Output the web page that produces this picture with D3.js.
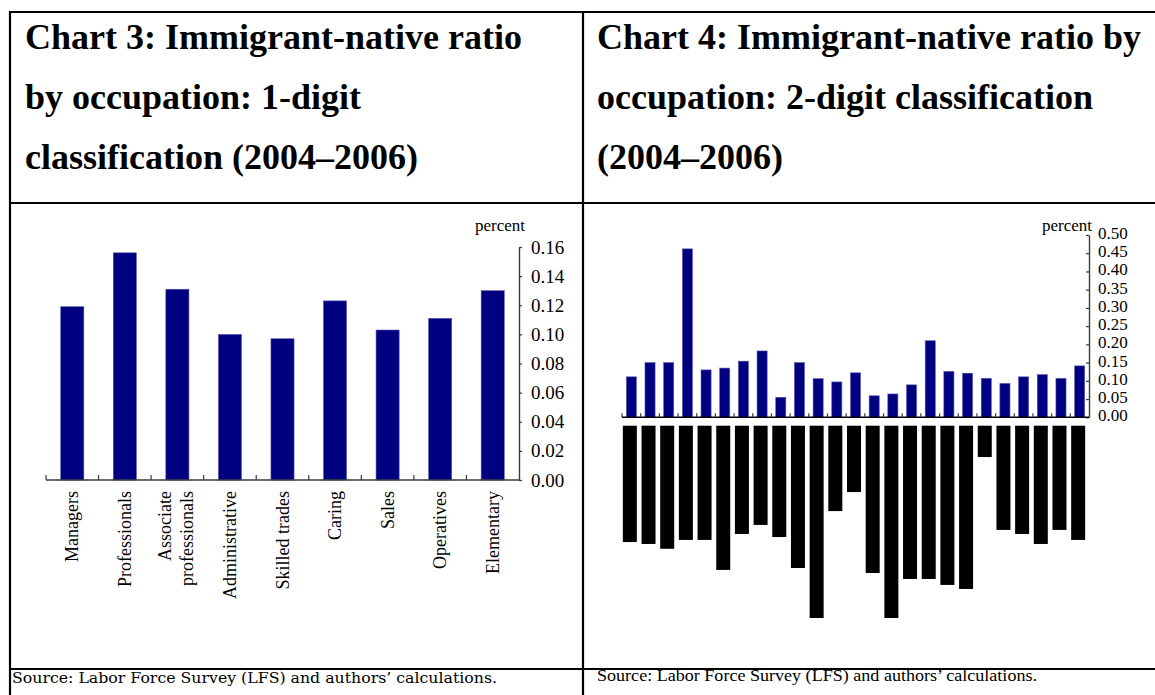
<!DOCTYPE html>
<html>
<head>
<meta charset="utf-8">
<script src="https://cdn.jsdelivr.net/npm/d3@7"></script>
<style>
  html, body { margin: 0; padding: 0; background: #fff; }
  svg { display: block; }
</style>
</head>
<body>
<svg id="chart"></svg>
<script>
// ── Data ──────────────────────────────────────────────────────────────────
// Chart 3: 1-digit occupations
const occ1      = ["Managers", "Professionals", "Associate\nprofessionals", "Administrative",
                   "Skilled trades", "Caring", "Sales", "Operatives", "Elementary"];
const ratio1    = [0.119, 0.156, 0.131, 0.100, 0.097, 0.123, 0.103, 0.111, 0.130];
const yTicks1   = [0, 0.02, 0.04, 0.06, 0.08, 0.10, 0.12, 0.14, 0.16];

// Chart 4: 2-digit occupations (labels are unreadable black blocks in the source)
const occ2      = d3.range(1, 26).map(i => "occ" + i);
const ratio2    = [0.111, 0.150, 0.150, 0.462, 0.130, 0.135, 0.154, 0.182, 0.055, 0.150,
                   0.106, 0.097, 0.122, 0.059, 0.064, 0.089, 0.210, 0.126, 0.121, 0.107,
                   0.093, 0.111, 0.117, 0.107, 0.141];
const labelLen2 = [0.605, 0.615, 0.640, 0.594, 0.594, 0.750, 0.563, 0.516, 0.579, 0.740,
                   1.000, 0.444, 0.345, 0.766, 1.000, 0.797, 0.797, 0.828, 0.849, 0.163,
                   0.542, 0.563, 0.615, 0.542, 0.594];
const yTicks2   = [0, 0.05, 0.10, 0.15, 0.20, 0.25, 0.30, 0.35, 0.40, 0.45, 0.50];

const titles = [
  ["Chart 3: Immigrant-native ratio", "by occupation: 1-digit", "classification (2004\u20132006)"],
  ["Chart 4: Immigrant-native ratio by", "occupation: 2-digit classification", "(2004\u20132006)"]
];
const sourceText = "Source: Labor Force Survey (LFS) and authors\u2019 calculations.";

// ── Canvas ────────────────────────────────────────────────────────────────
const W = 1155, H = 695;
const NAVY = "#000080";
const AXIS = "#3a3a3a";

const svg = d3.select("#chart").attr("width", W).attr("height", H);

// ── Table frame ───────────────────────────────────────────────────────────
const frame = svg.append("g").attr("stroke", "#000").attr("stroke-width", 2.2);
frame.append("line").attr("x1", 10).attr("x2", W).attr("y1", 12).attr("y2", 12);
frame.append("line").attr("x1", 10).attr("x2", W).attr("y1", 203).attr("y2", 203);
frame.append("line").attr("x1", 10).attr("x2", W).attr("y1", 669).attr("y2", 669);
frame.append("line").attr("x1", 10).attr("x2", 10).attr("y1", 11).attr("y2", H);
frame.append("line").attr("x1", 583).attr("x2", 583).attr("y1", 11).attr("y2", H);

// ── Titles ────────────────────────────────────────────────────────────────
[25, 597].forEach((x0, k) => {
  svg.append("g").selectAll("text")
    .data(titles[k])
    .join("text")
    .attr("x", x0)
    .attr("y", (d, i) => 49 + i * 60)
    .attr("font-family", "'Liberation Serif', 'Times New Roman', serif")
    .attr("font-weight", "bold")
    .attr("font-size", 36)
    .attr("fill", "#000")
    .text(d => d);
});

// ── Source lines ──────────────────────────────────────────────────────────
svg.append("text")
  .attr("x", 12).attr("y", 683)
  .attr("font-family", "'DejaVu Serif', serif")
  .attr("font-size", 14)
  .attr("textLength", 485).attr("lengthAdjust", "spacingAndGlyphs")
  .text(sourceText);

svg.append("text")
  .attr("x", 597).attr("y", 681)
  .attr("font-family", "'Liberation Serif', serif")
  .attr("font-size", 16)
  .attr("textLength", 440).attr("lengthAdjust", "spacingAndGlyphs")
  .text(sourceText);

const serif = "'Liberation Serif', 'Times New Roman', serif";

// ── Chart 3 ───────────────────────────────────────────────────────────────
{
  const g = svg.append("g");
  const x = d3.scaleBand().domain(occ1).range([46, 519]);
  const y = d3.scaleLinear().domain([0, 0.16]).range([480, 247]);
  const bw = x.step() * 0.44;

  g.selectAll("rect")
    .data(occ1)
    .join("rect")
    .attr("x", d => x(d) + (x.step() - bw) / 2)
    .attr("width", bw)
    .attr("y", (d, i) => y(ratio1[i]))
    .attr("height", (d, i) => y(0) - y(ratio1[i]))
    .attr("fill", NAVY)
    .attr("stroke", "#5a5ab0").attr("stroke-width", 0.6);

  // y axis on the right
  g.append("g")
    .attr("transform", "translate(519,0)")
    .call(d3.axisRight(y).tickValues(yTicks1).tickFormat(d3.format(".2f"))
      .tickSizeInner(3).tickSizeOuter(0).tickPadding(9))
    .call(a => a.select(".domain").attr("stroke", AXIS).attr("stroke-width", 1.4))
    .call(a => a.selectAll("line").attr("stroke", AXIS).attr("stroke-width", 1.2))
    .call(a => a.selectAll("text").attr("font-family", serif).attr("font-size", 19).attr("fill", "#000"));

  // x axis with boundary ticks pointing up
  g.append("line")
    .attr("x1", 46).attr("x2", 519).attr("y1", y(0)).attr("y2", y(0))
    .attr("stroke", AXIS).attr("stroke-width", 1.4);
  g.selectAll(".xt")
    .data(occ1)
    .join("line")
    .attr("x1", d => x(d)).attr("x2", d => x(d))
    .attr("y1", y(0)).attr("y2", y(0) - 5)
    .attr("stroke", AXIS).attr("stroke-width", 1.2);

  // rotated category labels
  const lab = g.selectAll(".lab")
    .data(occ1)
    .join("text")
    .attr("transform", d => `translate(${x(d) + x.step() / 2},491) rotate(-90)`)
    .attr("text-anchor", "end")
    .attr("font-family", serif)
    .attr("font-size", 18)
    .attr("fill", "#000");
  lab.each(function(d) {
    const lines = d.split("\n");
    const t = d3.select(this);
    lines.forEach((s, i) => {
      t.append("tspan")
        .attr("x", 0)
        .attr("y", lines.length === 1 ? 6 : (i === 0 ? -6 : 16))
        .text(s);
    });
  });

  g.append("text")
    .attr("x", 525).attr("y", 231)
    .attr("text-anchor", "end")
    .attr("font-family", serif).attr("font-size", 17)
    .text("percent");
}

// ── Chart 4 ───────────────────────────────────────────────────────────────
{
  const g = svg.append("g");
  const x = d3.scaleBand().domain(occ2).range([622, 1089]);
  const y = d3.scaleLinear().domain([0, 0.5]).range([417.3, 235]);
  const yl = d3.scaleLinear().domain([0, 1]).range([425.7, 618]);
  const bw = x.step() * 0.54;
  const lw = 14;

  // black label blocks below the axis
  g.selectAll(".blk")
    .data(occ2)
    .join("rect")
    .attr("x", d => x(d) + x.step() / 2 - lw / 2 - 1.5)
    .attr("width", lw)
    .attr("y", yl(0))
    .attr("height", (d, i) => yl(labelLen2[i]) - yl(0))
    .attr("fill", "#000");

  g.selectAll(".bar")
    .data(occ2)
    .join("rect")
    .attr("x", d => x(d) + (x.step() - bw) / 2)
    .attr("width", bw)
    .attr("y", (d, i) => y(ratio2[i]))
    .attr("height", (d, i) => y(0) - y(ratio2[i]))
    .attr("fill", NAVY)
    .attr("stroke", "#5a5ab0").attr("stroke-width", 0.6);

  g.append("g")
    .attr("transform", "translate(1089,0)")
    .call(d3.axisRight(y).tickValues(yTicks2).tickFormat(d3.format(".2f"))
      .tickSizeInner(-3).tickSizeOuter(0).tickPadding(9))
    .call(a => a.select(".domain").attr("stroke", AXIS).attr("stroke-width", 1.4))
    .call(a => a.selectAll("line").attr("stroke", AXIS).attr("stroke-width", 1.2))
    .call(a => a.selectAll("text").attr("font-family", serif).attr("font-size", 17).attr("fill", "#000")
      .attr("dy", "0.2em"));

  g.append("line")
    .attr("x1", 622).attr("x2", 1089).attr("y1", y(0)).attr("y2", y(0))
    .attr("stroke", "#000").attr("stroke-width", 1.6);
  g.selectAll(".xt")
    .data(occ2)
    .join("line")
    .attr("x1", d => x(d)).attr("x2", d => x(d))
    .attr("y1", y(0)).attr("y2", y(0) - 4)
    .attr("stroke", AXIS).attr("stroke-width", 1.2);

  g.append("text")
    .attr("x", 1092).attr("y", 231)
    .attr("text-anchor", "end")
    .attr("font-family", serif).attr("font-size", 17)
    .text("percent");
}
</script>
</body>
</html>
